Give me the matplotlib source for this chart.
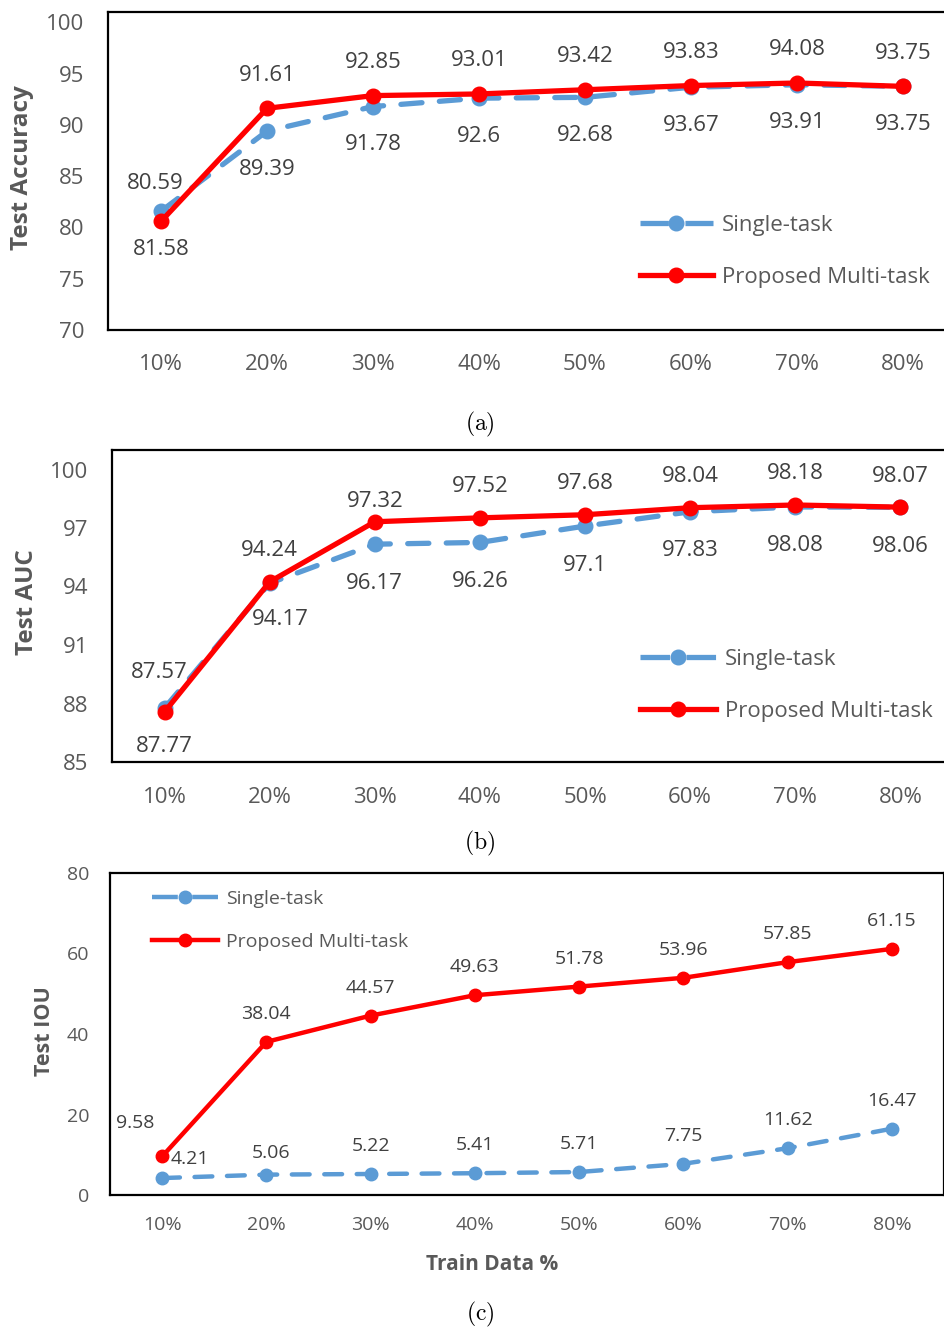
import numpy as np
import matplotlib
matplotlib.use('Agg')
import matplotlib.pyplot as plt
from matplotlib.lines import Line2D

plt.rcParams['font.family'] = ['Open Sans', 'DejaVu Sans']
plt.rcParams['mathtext.fontset'] = 'cm'

# x categories
train_pct = ['10%', '20%', '30%', '40%', '50%', '60%', '70%', '80%']

# test accuracy
acc_single = [81.58, 89.39, 91.78, 92.6, 92.68, 93.67, 93.91, 93.75]
acc_multi = [80.59, 91.61, 92.85, 93.01, 93.42, 93.83, 94.08, 93.75]

# test AUC
auc_single = [87.77, 94.17, 96.17, 96.26, 97.1, 97.83, 98.08, 98.06]
auc_multi = [87.57, 94.24, 97.32, 97.52, 97.68, 98.04, 98.18, 98.07]

# test IOU
iou_single = [4.21, 5.06, 5.22, 5.41, 5.71, 7.75, 11.62, 16.47]
iou_multi = [9.58, 38.04, 44.57, 49.63, 51.78, 53.96, 57.85, 61.15]

BLUE = '#5B9BD5'
RED = '#FF0000'
TICK_C = '#595959'
LABEL_C = '#404040'

W, H = 945, 1329
fig = plt.figure(figsize=(W / 100, H / 100), dpi=100)


def px_axes(left, top, right, bottom):
    return fig.add_axes([left / W, 1 - bottom / H, (right - left) / W, (bottom - top) / H])


def draw_panel(ax, single, multi, ylim, yticks, fs, lw, ms,
               single_dy, multi_dy, tweaks, legend_xy, handlelen, labelspacing,
               xpad, ypad):
    x = np.arange(1, len(train_pct) + 1)
    ax.plot(x, single, color=BLUE, lw=lw, ls=(0, (4, 3.3)), dash_capstyle='round',
            marker='o', ms=ms, zorder=3)
    ax.plot(x, multi, color=RED, lw=lw, solid_capstyle='round',
            marker='o', ms=ms, zorder=4)

    for i, (s, m) in enumerate(zip(single, multi)):
        dx, dy = tweaks.get(('s', i), (0, single_dy))
        ax.annotate(str(s), (x[i], s), xytext=(dx, dy), textcoords='offset pixels',
                    ha='center', va='center', fontsize=fs, color=LABEL_C, zorder=5)
        dx, dy = tweaks.get(('m', i), (0, multi_dy))
        ax.annotate(str(m), (x[i], m), xytext=(dx, dy), textcoords='offset pixels',
                    ha='center', va='center', fontsize=fs, color=LABEL_C, zorder=5)

    ax.set_xlim(0.5, len(train_pct) + 0.5)
    ax.set_ylim(*ylim)
    ax.set_yticks(yticks)
    ax.set_xticks(x)
    ax.set_xticklabels(train_pct)
    ax.tick_params(axis='both', length=0, labelsize=fs, labelcolor=TICK_C)
    ax.tick_params(axis='x', pad=xpad)
    ax.tick_params(axis='y', pad=ypad)
    for sp in ax.spines.values():
        sp.set_color('black')
        sp.set_linewidth(1.6)

    # legend keys: dash - marker - dash, sized to the handle
    L = handlelen * fs * 100 / 72
    lw_px = lw * 100 / 72
    gap = ms * 100 / 72 + 2
    dash = (L - gap) / 2
    h_single = Line2D([], [], color=BLUE, lw=lw, ls=(0, (dash / lw_px, gap / lw_px)),
                      dash_capstyle='butt', marker='o', ms=ms)
    h_multi = Line2D([], [], color=RED, lw=lw, marker='o', ms=ms)
    ax.legend([h_single, h_multi], ['Single-task', 'Proposed Multi-task'],
              loc='upper left', bbox_to_anchor=legend_xy, frameon=False,
              fontsize=fs, handlelength=handlelen, handletextpad=0.4,
              labelspacing=labelspacing, borderpad=0, borderaxespad=0,
              labelcolor=TICK_C)


# (a) accuracy
ax_a = px_axes(108, 12, 956, 330)
draw_panel(ax_a, acc_single, acc_multi, (70, 101), range(70, 101, 5),
           fs=16, lw=3.8, ms=10.5, single_dy=-38, multi_dy=33,
           tweaks={('m', 0): (-6, 38)},
           legend_xy=(0.627, 0.362), handlelen=3.3, labelspacing=1.4,
           xpad=17.5, ypad=17)

# (b) AUC
ax_b = px_axes(112, 450, 953, 762)
draw_panel(ax_b, auc_single, auc_multi, (85, 101), range(85, 101, 3),
           fs=16, lw=3.8, ms=10.5, single_dy=-39, multi_dy=31,
           tweaks={('m', 0): (-5, 39), ('s', 1): (11, -36), ('m', 2): (0, 20)},
           legend_xy=(0.628, 0.362), handlelen=3.4, labelspacing=1.4,
           xpad=18, ypad=17)

# (c) IOU
ax_c = px_axes(110, 873, 944, 1195)
draw_panel(ax_c, iou_single, iou_multi, (0, 80), range(0, 81, 20),
           fs=14, lw=3.2, ms=9, single_dy=28, multi_dy=28,
           tweaks={('m', 0): (-27, 33), ('s', 0): (28, 19), ('s', 1): (5, 22)},
           legend_xy=(0.050, 0.948), handlelen=3.4, labelspacing=1.3,
           xpad=15, ypad=15)

# axis titles
fig.text(22 / W, 1 - 168 / H, 'Test Accuracy', rotation=90, ha='center', va='center',
         fontsize=17.5, fontweight='bold', color=TICK_C)
fig.text(27 / W, 1 - 602 / H, 'Test AUC', rotation=90, ha='center', va='center',
         fontsize=17.5, fontweight='bold', color=TICK_C)
fig.text(45 / W, 1 - 1031 / H, 'Test IOU', rotation=90, ha='center', va='center',
         fontsize=15.5, fontweight='bold', color=TICK_C)
fig.text(492 / W, 1 - 1265 / H, 'Train Data %', ha='center', va='center',
         fontsize=15, fontweight='bold', color=TICK_C)

# panel captions
for lbl, yy in [('a', 424), ('b', 843), ('c', 1314)]:
    fig.text(480 / W, 1 - yy / H, r'$\mathrm{(%s)}$' % lbl, ha='center', va='center',
             fontsize=17, color='black')

fig.savefig('out.png', dpi=100)
